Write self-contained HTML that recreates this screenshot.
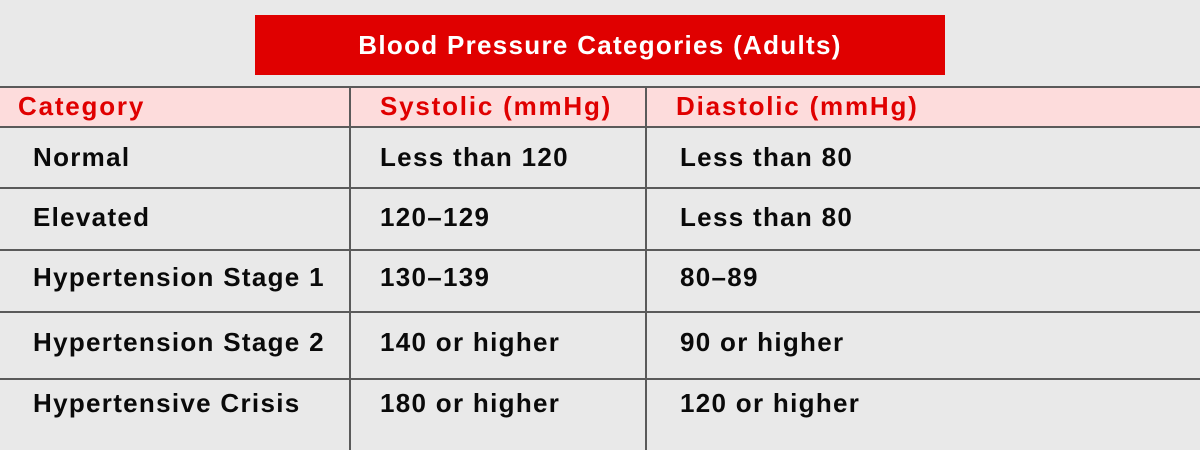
<!DOCTYPE html>
<html><head><meta charset="utf-8"><style>
body{margin:0;width:1200px;height:450px;background:#e9e9e9;position:relative;overflow:hidden;font-family:"Liberation Sans",sans-serif;}
.a{position:absolute;}
.t{position:absolute;font-size:26px;font-weight:bold;color:#0a0a0a;letter-spacing:1.3px;line-height:30px;white-space:nowrap;}
.h{color:#e00000;font-weight:bold;font-size:26px;letter-spacing:1.8px;}
.hl{position:absolute;left:0;width:1200px;height:2px;background:#5a5a5a;}
.vl{position:absolute;top:86px;width:2px;height:364px;background:#5a5a5a;}
</style></head><body>
<div class="a" style="left:255px;top:15px;width:690px;height:60px;background:#e00000;color:#fff;font-size:26px;font-weight:bold;text-align:center;line-height:60px;letter-spacing:1.3px;">Blood Pressure Categories (Adults)</div>
<div class="a" style="left:0;top:86px;width:1200px;height:40px;background:#fddcdc;"></div>
<div class="hl" style="top:86px"></div>
<div class="hl" style="top:126px"></div>
<div class="hl" style="top:187px"></div>
<div class="hl" style="top:249px"></div>
<div class="hl" style="top:311px"></div>
<div class="hl" style="top:378px"></div>
<div class="vl" style="left:349px"></div>
<div class="vl" style="left:645px"></div>
<div class="t h" style="left:18px;top:91px">Category</div>
<div class="t h" style="left:380px;top:91px">Systolic (mmHg)</div>
<div class="t h" style="left:676px;top:91px">Diastolic (mmHg)</div>

<div class="t" style="left:33px;top:142px">Normal</div>
<div class="t" style="left:380px;top:142px">Less than 120</div>
<div class="t" style="left:680px;top:142px">Less than 80</div>

<div class="t" style="left:33px;top:202px">Elevated</div>
<div class="t" style="left:380px;top:202px">120–129</div>
<div class="t" style="left:680px;top:202px">Less than 80</div>

<div class="t" style="left:33px;top:262px">Hypertension Stage 1</div>
<div class="t" style="left:380px;top:262px">130–139</div>
<div class="t" style="left:680px;top:262px">80–89</div>

<div class="t" style="left:33px;top:327px">Hypertension Stage 2</div>
<div class="t" style="left:380px;top:327px">140 or higher</div>
<div class="t" style="left:680px;top:327px">90 or higher</div>

<div class="t" style="left:33px;top:388px">Hypertensive Crisis</div>
<div class="t" style="left:380px;top:388px">180 or higher</div>
<div class="t" style="left:680px;top:388px">120 or higher</div>
</body></html>
